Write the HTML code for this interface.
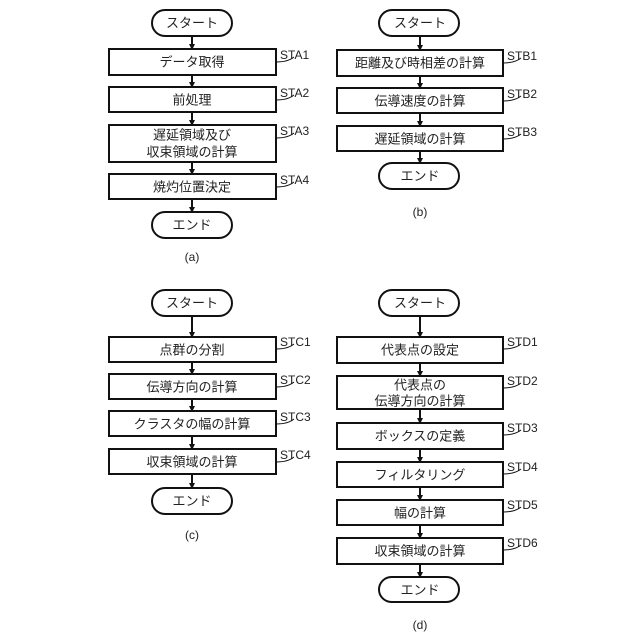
<!DOCTYPE html>
<html><head><meta charset="utf-8"><style>
html,body{margin:0;padding:0;background:#fff;}
svg{display:block}
text{font-family:"Liberation Sans","Noto Sans CJK JP",sans-serif;fill:#222;}
.t{font-size:13px;text-anchor:middle;dominant-baseline:central}
.l{font-size:12px}
.c{font-size:12px;text-anchor:middle}
rect,.o{fill:#fff;stroke:#111;stroke-width:2}
.a{stroke:#111;stroke-width:2}
.q{fill:none;stroke:#111;stroke-width:1}
</style></head><body>
<svg width="640" height="640" viewBox="0 0 640 640" xmlns="http://www.w3.org/2000/svg">
<defs><marker id="ar" markerWidth="6" markerHeight="6" refX="5" refY="3" orient="auto" markerUnits="userSpaceOnUse"><path d="M0,0 L6,3 L0,6 z" fill="#111"/></marker></defs>

<!-- (a) -->
<g>
<rect class="o" x="152" y="10" width="80" height="26" rx="13"/><text class="t" x="192" y="23">スタート</text>
<line class="a" x1="192" y1="36" x2="192" y2="49" marker-end="url(#ar)"/>
<rect x="109" y="49" width="167" height="26"/><text class="t" x="192" y="62">データ取得</text>
<line class="a" x1="192" y1="75" x2="192" y2="87" marker-end="url(#ar)"/>
<rect x="109" y="87" width="167" height="25"/><text class="t" x="192" y="100">前処理</text>
<line class="a" x1="192" y1="112" x2="192" y2="125" marker-end="url(#ar)"/>
<rect x="109" y="125" width="167" height="37"/><text class="t" x="192" y="135">遅延領域及び</text><text class="t" x="192" y="152">収束領域の計算</text>
<line class="a" x1="192" y1="162" x2="192" y2="174" marker-end="url(#ar)"/>
<rect x="109" y="174" width="167" height="25"/><text class="t" x="192" y="187">焼灼位置決定</text>
<line class="a" x1="192" y1="199" x2="192" y2="212" marker-end="url(#ar)"/>
<rect class="o" x="152" y="212" width="80" height="26" rx="13"/><text class="t" x="192" y="225">エンド</text>
<text class="c" x="192" y="261">(a)</text>
<text class="l" x="280" y="59">STA1</text><path class="q" d="M276,62 Q288,62 294,57"/>
<text class="l" x="280" y="97">STA2</text><path class="q" d="M276,100 Q288,100 294,95"/>
<text class="l" x="280" y="135">STA3</text><path class="q" d="M276,138 Q288,138 294,133"/>
<text class="l" x="280" y="184">STA4</text><path class="q" d="M276,187 Q288,187 294,182"/>
</g>

<!-- (b) -->
<g>
<rect class="o" x="379" y="10" width="80" height="26" rx="13"/><text class="t" x="420" y="23">スタート</text>
<line class="a" x1="420" y1="36" x2="420" y2="50" marker-end="url(#ar)"/>
<rect x="337" y="50" width="166" height="26"/><text class="t" x="420" y="63">距離及び時相差の計算</text>
<line class="a" x1="420" y1="76" x2="420" y2="88" marker-end="url(#ar)"/>
<rect x="337" y="88" width="166" height="25"/><text class="t" x="420" y="101">伝導速度の計算</text>
<line class="a" x1="420" y1="113" x2="420" y2="126" marker-end="url(#ar)"/>
<rect x="337" y="126" width="166" height="25"/><text class="t" x="420" y="139">遅延領域の計算</text>
<line class="a" x1="420" y1="151" x2="420" y2="163" marker-end="url(#ar)"/>
<rect class="o" x="379" y="163" width="80" height="26" rx="13"/><text class="t" x="420" y="176">エンド</text>
<text class="c" x="420" y="216">(b)</text>
<text class="l" x="507" y="60">STB1</text><path class="q" d="M503,63 Q515,63 521,58"/>
<text class="l" x="507" y="98">STB2</text><path class="q" d="M503,101 Q515,101 521,96"/>
<text class="l" x="507" y="136">STB3</text><path class="q" d="M503,139 Q515,139 521,134"/>
</g>

<!-- (c) -->
<g>
<rect class="o" x="152" y="290" width="80" height="26" rx="13"/><text class="t" x="192" y="303">スタート</text>
<line class="a" x1="192" y1="316" x2="192" y2="337" marker-end="url(#ar)"/>
<rect x="109" y="337" width="167" height="25"/><text class="t" x="192" y="350">点群の分割</text>
<line class="a" x1="192" y1="362" x2="192" y2="374" marker-end="url(#ar)"/>
<rect x="109" y="374" width="167" height="25"/><text class="t" x="192" y="387">伝導方向の計算</text>
<line class="a" x1="192" y1="399" x2="192" y2="411" marker-end="url(#ar)"/>
<rect x="109" y="411" width="167" height="25"/><text class="t" x="192" y="424">クラスタの幅の計算</text>
<line class="a" x1="192" y1="436" x2="192" y2="449" marker-end="url(#ar)"/>
<rect x="109" y="449" width="167" height="25"/><text class="t" x="192" y="462">収束領域の計算</text>
<line class="a" x1="192" y1="474" x2="192" y2="488" marker-end="url(#ar)"/>
<rect class="o" x="152" y="488" width="80" height="26" rx="13"/><text class="t" x="192" y="501">エンド</text>
<text class="c" x="192" y="539">(c)</text>
<text class="l" x="280" y="346">STC1</text><path class="q" d="M276,349 Q288,349 294,344"/>
<text class="l" x="280" y="384">STC2</text><path class="q" d="M276,387 Q288,387 294,382"/>
<text class="l" x="280" y="421">STC3</text><path class="q" d="M276,424 Q288,424 294,419"/>
<text class="l" x="280" y="459">STC4</text><path class="q" d="M276,462 Q288,462 294,457"/>
</g>

<!-- (d) -->
<g>
<rect class="o" x="379" y="290" width="80" height="26" rx="13"/><text class="t" x="420" y="303">スタート</text>
<line class="a" x1="420" y1="316" x2="420" y2="337" marker-end="url(#ar)"/>
<rect x="337" y="337" width="166" height="26"/><text class="t" x="420" y="350">代表点の設定</text>
<line class="a" x1="420" y1="363" x2="420" y2="376" marker-end="url(#ar)"/>
<rect x="337" y="376" width="166" height="33"/><text class="t" x="420" y="385">代表点の</text><text class="t" x="420" y="401">伝導方向の計算</text>
<line class="a" x1="420" y1="409" x2="420" y2="423" marker-end="url(#ar)"/>
<rect x="337" y="423" width="166" height="26"/><text class="t" x="420" y="436">ボックスの定義</text>
<line class="a" x1="420" y1="449" x2="420" y2="462" marker-end="url(#ar)"/>
<rect x="337" y="462" width="166" height="25"/><text class="t" x="420" y="475">フィルタリング</text>
<line class="a" x1="420" y1="487" x2="420" y2="500" marker-end="url(#ar)"/>
<rect x="337" y="500" width="166" height="25"/><text class="t" x="420" y="513">幅の計算</text>
<line class="a" x1="420" y1="525" x2="420" y2="538" marker-end="url(#ar)"/>
<rect x="337" y="538" width="166" height="26"/><text class="t" x="420" y="551">収束領域の計算</text>
<line class="a" x1="420" y1="564" x2="420" y2="577" marker-end="url(#ar)"/>
<rect class="o" x="379" y="577" width="80" height="25" rx="12.5"/><text class="t" x="420" y="590">エンド</text>
<text class="c" x="420" y="629">(d)</text>
<text class="l" x="507" y="346">STD1</text><path class="q" d="M503,349 Q515,349 521,344"/>
<text class="l" x="507" y="385">STD2</text><path class="q" d="M503,388 Q515,388 521,383"/>
<text class="l" x="507" y="432">STD3</text><path class="q" d="M503,435 Q515,435 521,430"/>
<text class="l" x="507" y="471">STD4</text><path class="q" d="M503,474 Q515,474 521,469"/>
<text class="l" x="507" y="509">STD5</text><path class="q" d="M503,512 Q515,512 521,507"/>
<text class="l" x="507" y="547">STD6</text><path class="q" d="M503,550 Q515,550 521,545"/>
</g>
</svg>
</body></html>
